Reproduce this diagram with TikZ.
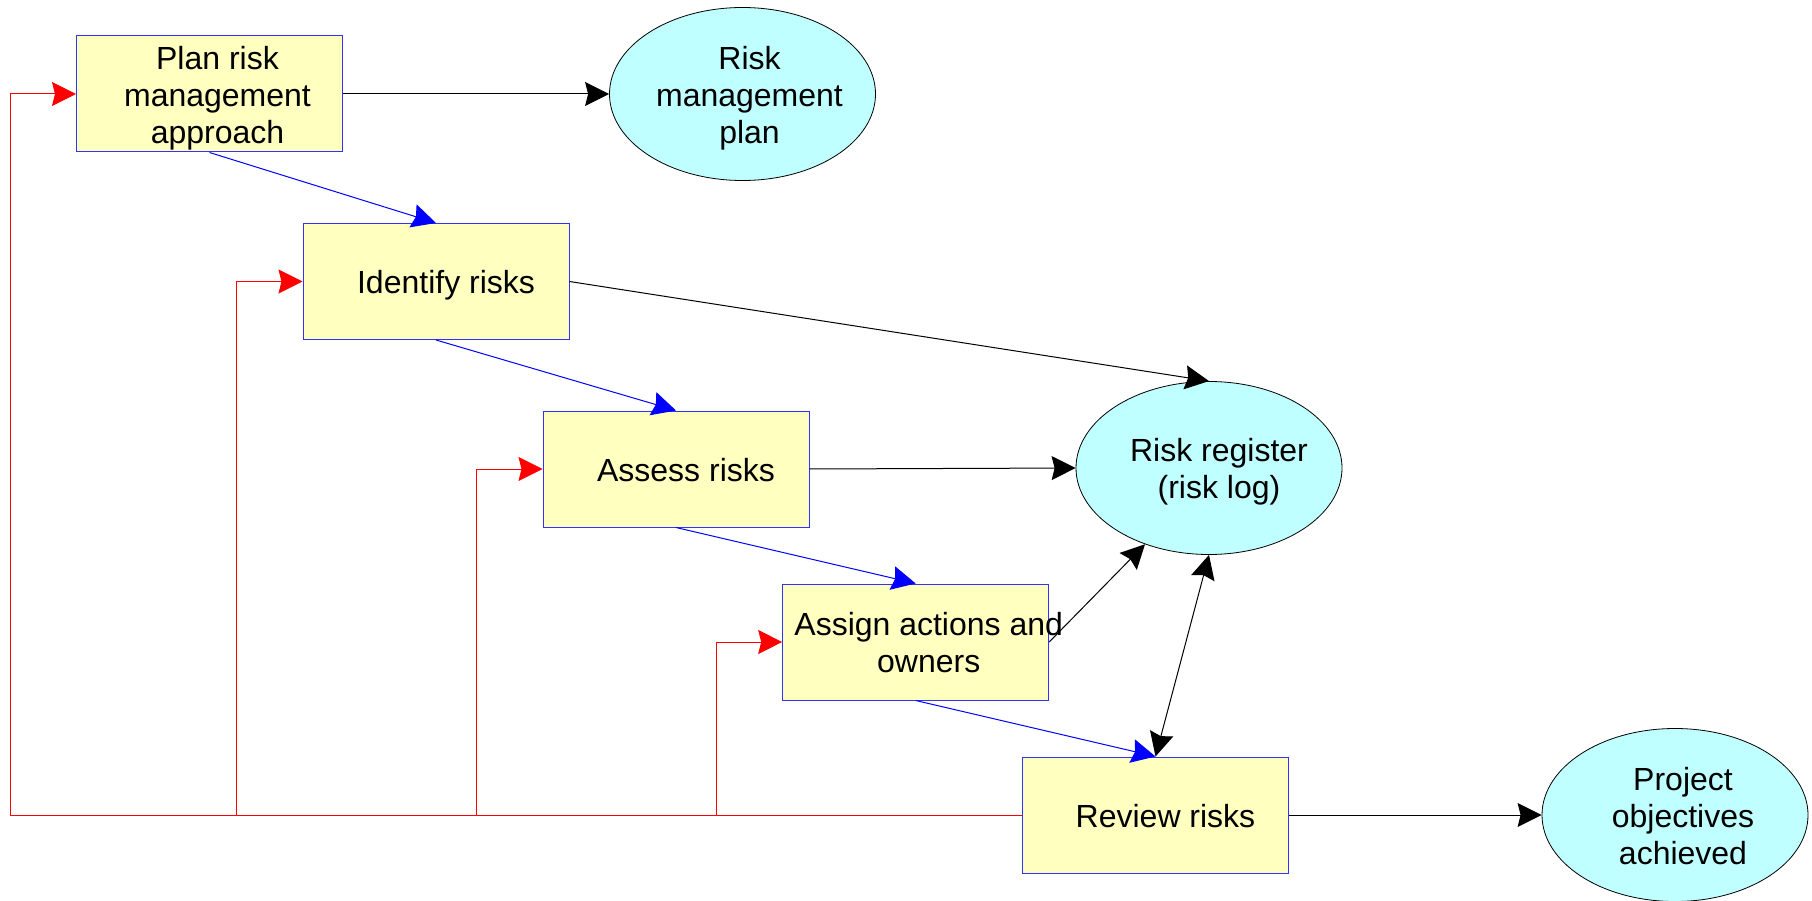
\documentclass[tikz,border=0pt]{standalone}
\usepackage{fontspec}
\setmainfont{Liberation Sans}
\usetikzlibrary{arrows.meta,shapes.geometric}
\definecolor{boxfill}{RGB}{255,255,192}
\definecolor{ovalfill}{RGB}{192,255,255}
\definecolor{boxline}{RGB}{50,50,255}
% centred block of lines, nudged right by half of #1 and lowered by 5pt,
% keeping its natural height and depth and taking no width of its own
\newcommand\nodelines[2]{\makebox[0pt][c]{\hspace*{#1}\raisebox{-5pt}[\height][\depth]{\begin{tabular}{@{}c@{}}#2\end{tabular}}}}
\begin{document}
\begin{tikzpicture}[x=1pt,y=-1pt,
  every node/.style={font=\fontsize{32}{37}\selectfont},
  stepbox/.style={rectangle, draw=boxline, fill=boxfill, line width=1pt,
    minimum width=266pt, minimum height=116pt, inner sep=0pt},
  outcome/.style={ellipse, draw=black, fill=ovalfill, line width=0.8pt,
    minimum width=266pt, minimum height=173pt, inner sep=0pt},
  tip/.style={-{Stealth[length=24pt,width=24pt,inset=3pt]}},
  flow/.style={tip, draw=blue, line width=1pt},
  output/.style={tip, draw=black, line width=1pt},
  loop/.style={draw=red, line width=1pt},
  loopin/.style={loop, tip},
]
\useasboundingbox (0,0) rectangle (1812,901);

% process steps
\node[stepbox] (plan)   at (209.5,94)  {\nodelines{16pt}{Plan risk\\management\\approach}};
\node[stepbox] (ident)  at (436,281.5) {\nodelines{20pt}{Identify risks}};
\node[stepbox] (assess) at (676,469)   {\nodelines{20pt}{Assess risks}};
\node[stepbox] (assign) at (915.7,642) {\nodelines{26pt}{Assign actions and\\owners}};
\node[stepbox] (review) at (1155.5,815){\nodelines{20pt}{Review risks}};

% products
\node[outcome] (rmp)  at (742.5,94)  {\nodelines{14pt}{Risk\\management\\plan}};
\node[outcome] (reg)  at (1209,468)  {\nodelines{20pt}{Risk register\\(risk log)}};
\node[outcome] (proj) at (1675,815)  {\nodelines{16pt}{Project\\objectives\\achieved}};

% main sequence
\draw[flow] (plan.south)  -- (ident.north);
\draw[flow] (ident.south) -- (assess.north);
\draw[flow] (assess.south)-- (assign.north);
\draw[flow] (assign.south)-- (review.north);

% outputs
\draw[output] (plan.east)   -- (rmp.west);
\draw[output] (ident.east)  -- (reg.north);
\draw[output] (assess.east) -- (reg.west);
\draw[output] (assign.east) -- (reg.230);
\draw[output, {Stealth[length=24pt,width=24pt,inset=3pt]}-{Stealth[length=24pt,width=24pt,inset=3pt]}] (review.north) -- (reg.south);
\draw[output] (review.east) -- (proj.west);

% feedback loop
\coordinate (j0) at (10.3,815);
\coordinate (j1) at (236.5,815);
\coordinate (j2) at (476.5,815);
\coordinate (j3) at (716,815);
\draw[loopin] (review.west) -- (j0) |- (plan.west);
\draw[loopin] (j1) |- (ident.west);
\draw[loopin] (j2) |- (assess.west);
\draw[loopin] (j3) |- (assign.west);
\end{tikzpicture}
\end{document}
